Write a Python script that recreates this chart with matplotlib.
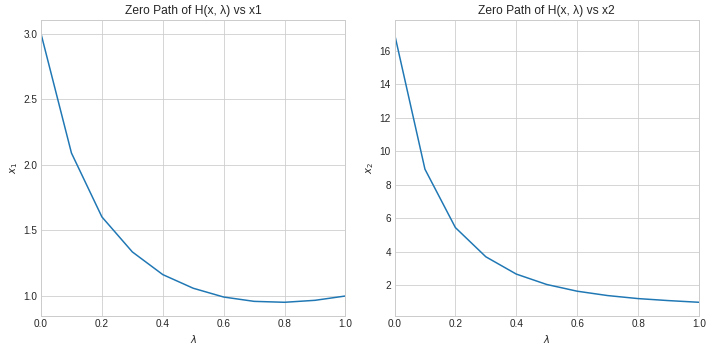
import numpy as np
import matplotlib
matplotlib.use("Agg")
import matplotlib.pyplot as plt

# zero path of the homotopy H(x, lambda)
lam = [0.0, 0.1, 0.2, 0.3, 0.4, 0.5, 0.6, 0.7, 0.8, 0.9, 1.0]
x1 = [3.0, 2.09, 1.603, 1.336, 1.163, 1.059, 0.992, 0.959, 0.952, 0.967, 1.0]
x2 = [17.0, 8.93, 5.45, 3.71, 2.68, 2.06, 1.66, 1.40, 1.22, 1.10, 1.0]

plt.style.use("seaborn-v0_8-whitegrid")
plt.rcParams['font.family'] = ['Liberation Sans', 'DejaVu Sans']
plt.rcParams['xtick.labelsize'] = 10
plt.rcParams['ytick.labelsize'] = 10
plt.rcParams['axes.labelsize'] = 10
plt.rcParams['axes.titlesize'] = 12
plt.rcParams['text.color'] = '#262626'
plt.rcParams['xtick.color'] = '#262626'
plt.rcParams['ytick.color'] = '#262626'

dpi = 72
fig, axes = plt.subplots(1, 2, figsize=(712 / dpi, 352 / dpi), dpi=dpi)

axes[0].plot(lam, x1, lw=1.5)
axes[0].set_title("Zero Path of H(x, λ) vs x1")
axes[0].set_xlabel(r"$\lambda$")
axes[0].set_ylabel(r"$x_1$")
axes[0].set_xlim(0, 1)

axes[1].plot(lam, x2, lw=1.5)
axes[1].set_title("Zero Path of H(x, λ) vs x2")
axes[1].set_xlabel(r"$\lambda$")
axes[1].set_ylabel(r"$x_2$")
axes[1].set_xlim(0, 1)

for ax in axes:
    for s in ax.spines.values():
        s.set_visible(True)
        s.set_color("#cccccc")

plt.subplots_adjust(left=0.0576, right=0.9817, top=0.9423, bottom=0.1031, wspace=0.161)
plt.savefig("out.png", dpi=dpi)
